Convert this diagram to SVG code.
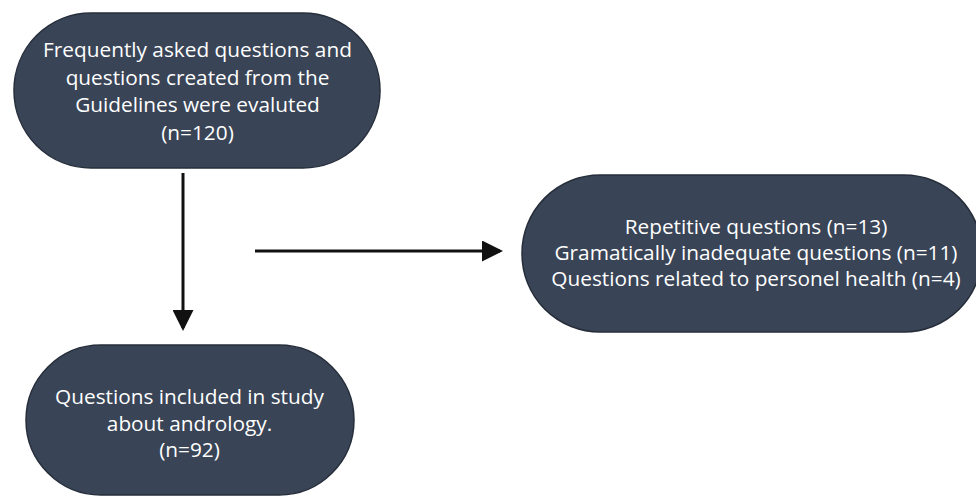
<svg xmlns="http://www.w3.org/2000/svg" width="976" height="497" viewBox="0 0 976 497">
<style>
.node{fill:#394456;stroke:#262e3b;stroke-width:1.5}
.t{font-family:"Open Sans","Noto Sans",sans-serif;font-size:20.8px;fill:#ffffff;text-anchor:middle}
.c{stroke:#111111;stroke-width:3;fill:none}
</style>
<defs>
<marker id="ah" markerWidth="7" markerHeight="7" refX="6" refY="3.5" orient="auto" markerUnits="strokeWidth">
<path d="M0,0 L7,3.5 L0,7 Z" fill="#111111"/>
</marker>
</defs>
<rect width="976" height="497" fill="#ffffff"/>
<g id="connectors">
<line class="c" x1="183" y1="173" x2="183" y2="328" marker-end="url(#ah)"/>
<line class="c" x1="255" y1="251" x2="500" y2="251" marker-end="url(#ah)"/>
</g>
<g id="node-evaluated">
<rect class="node" x="14" y="13" width="366" height="155" rx="77" ry="77"/>
<text class="t" x="197.5" y="57">Frequently asked questions and</text>
<text class="t" x="197.5" y="84.5">questions created from the</text>
<text class="t" x="197.5" y="112">Guidelines were evaluted</text>
<text class="t" x="197.5" y="139.5">(n=120)</text>
</g>
<g id="node-excluded">
<rect class="node" x="522" y="175" width="460" height="157" rx="78" ry="78"/>
<text class="t" x="756" y="234">Repetitive questions (n=13)</text>
<text class="t" x="756" y="260">Gramatically inadequate questions (n=11)</text>
<text class="t" x="756" y="286">Questions related to personel health (n=4)</text>
</g>
<g id="node-included">
<rect class="node" x="26" y="345" width="328" height="150" rx="75" ry="75"/>
<text class="t" x="189.5" y="404">Questions included in study</text>
<text class="t" x="189.5" y="430.5">about andrology.</text>
<text class="t" x="189.5" y="457">(n=92)</text>
</g>
</svg>
